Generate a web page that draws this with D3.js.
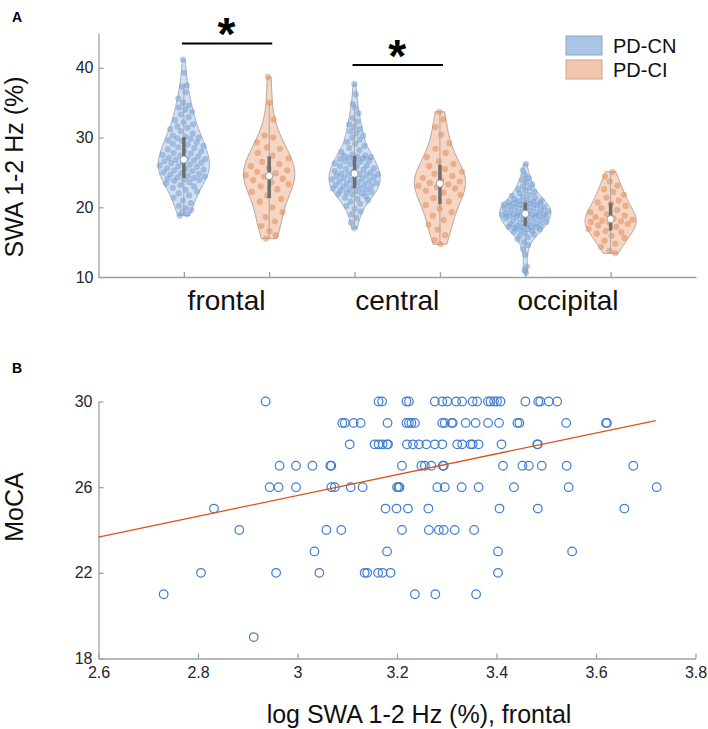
<!DOCTYPE html>
<html><head><meta charset="utf-8">
<script src="https://cdn.jsdelivr.net/npm/d3@7"></script>
<style>body{margin:0;background:#fff} svg{display:block;font-family:"Liberation Sans",Arial,Helvetica,sans-serif}</style>
</head><body><svg id="c" width="708" height="729"></svg>
<script>
// ---------------- DATA ----------------
const regions = ["frontal", "central", "occipital"];
const seriesNames = ["PD-CN", "PD-CI"];

const frontalCN = [18.8,19.0,19.3,19.6,19.9,20.2,20.6,21.0,21.4,21.7,22.0,22.3,22.5,22.8,23.0,23.2,23.4,23.6,23.8,23.9,24.0,24.1,
  24.2,24.3,24.4,24.5,24.7,24.8,24.9,25.0,25.2,25.3,25.4,25.5,25.6,25.8,25.9,26.0,26.1,26.3,26.4,26.5,26.6,26.7,26.8,
  26.9,27.0,27.1,27.3,27.4,27.5,27.7,27.8,28.0,28.1,28.3,28.5,28.6,28.8,29.0,29.1,29.3,29.5,29.6,29.8,29.9,30.0,30.1,
  30.3,30.6,30.9,31.2,31.4,31.6,31.9,32.2,32.5,32.9,33.3,33.7,34.0,34.3,34.6,35.0,35.6,36.5,37.3,37.5,39.3,41.2];
const frontalCI = [15.5,16.0,16.6,17.3,18.0,18.6,19.3,20.0,20.8,21.2,21.7,22.2,22.6,23.0,23.3,23.6,23.9,24.1,24.4,
  24.6,24.9,25.1,25.3,25.6,25.9,26.2,26.5,27.0,27.4,27.8,28.4,28.6,29.3,30.0,30.3,32.6,35.0,38.7];
const centralCN = [17.0,17.8,18.5,19.0,19.4,19.8,20.2,20.5,20.8,21.0,21.2,21.4,21.6,21.8,21.9,22.0,22.1,22.2,22.3,22.4,22.5,22.6,
  22.7,22.8,22.9,23.0,23.1,23.2,23.3,23.4,23.5,23.6,23.7,23.8,23.9,24.0,24.1,24.2,24.3,24.4,24.5,24.6,24.7,24.75,24.8,
  24.85,25.0,25.1,25.2,25.4,25.5,25.6,25.8,25.9,26.0,26.2,26.3,26.5,26.6,26.7,26.8,26.9,27.0,27.1,27.2,27.3,27.35,27.4,
  27.6,27.9,28.2,28.5,28.8,29.1,29.4,29.7,30.0,30.3,30.6,30.9,31.2,31.5,31.9,32.3,32.8,33.5,34.3,34.8,36.2,37.7];
const centralCI = [14.7,15.3,16.0,16.8,17.5,18.2,18.8,19.3,19.8,20.3,20.8,21.3,21.8,22.1,22.4,22.7,22.9,23.1,23.3,
  23.5,23.7,23.9,24.2,24.5,24.8,25.1,25.5,25.9,26.2,26.6,27.2,27.8,28.4,29.2,30.4,31.5,32.6,33.7];
const occipitalCN = [10.6,11.0,11.5,13.2,14.0,14.6,15.0,15.4,15.7,15.9,16.1,16.3,16.5,16.6,16.7,16.8,16.9,17.0,17.1,17.15,17.2,17.25,
  17.3,17.4,17.5,17.6,17.7,17.8,17.9,18.0,18.1,18.2,18.3,18.4,18.5,18.6,18.65,18.7,18.75,18.8,18.85,18.9,18.95,19.0,19.05,
  19.1,19.15,19.2,19.3,19.4,19.5,19.6,19.7,19.8,19.85,19.9,20.0,20.05,20.1,20.2,20.3,20.35,20.4,20.5,20.55,20.6,20.65,20.7,
  20.8,20.9,21.0,21.1,21.2,21.35,21.5,21.65,21.8,22.0,22.2,22.4,22.6,22.8,23.0,23.3,23.6,23.9,24.2,24.6,25.3,26.2];
const occipitalCI = [13.4,13.8,14.3,14.8,15.2,15.6,15.9,16.2,16.4,16.6,16.9,17.2,17.4,17.6,17.8,17.9,18.0,18.1,18.2,
  18.4,18.6,18.8,19.0,19.3,19.6,19.9,20.2,20.5,20.7,21.0,21.4,21.8,22.2,22.6,23.1,23.7,24.4,25.1];

const yTicksA = [10, 20, 30, 40];
const sigRegions = ["frontal", "central"];
const sigLevels = [43.5, 40.4];   // height of the significance bar (SWA %)

const mocaLevels = [30, 29, 28, 27, 26, 25, 24, 23, 22, 21, 19];
const swaByMoca = [
  [2.936,3.163,3.170,3.219,3.224,3.276,3.291,3.301,3.319,3.331,3.352,3.361,3.383,3.388,3.395,3.401,3.408,3.458,3.484,3.488,3.505,3.522],
  [3.090,3.095,3.113,3.127,3.181,3.219,3.224,3.229,3.236,3.291,3.296,3.310,3.312,3.338,3.358,3.383,3.405,3.442,3.446,3.540,3.620,3.622],
  [3.105,3.155,3.163,3.171,3.180,3.182,3.220,3.232,3.244,3.259,3.276,3.291,3.321,3.331,3.348,3.352,3.364,3.410,3.482,3.483],
  [2.964,2.997,3.030,3.066,3.068,3.210,3.249,3.256,3.269,3.292,3.294,3.413,3.452,3.465,3.491,3.541,3.675],
  [2.944,2.962,2.997,3.068,3.075,3.107,3.131,3.200,3.203,3.205,3.281,3.296,3.330,3.364,3.435,3.545,3.722],
  [2.832,3.177,3.199,3.222,3.263,3.406,3.483,3.657],
  [2.883,3.058,3.088,3.210,3.264,3.284,3.294,3.316,3.355],
  [3.034,3.180,3.403,3.552],
  [2.806,2.957,3.044,3.135,3.140,3.162,3.171,3.187,3.403],
  [2.731,3.236,3.277,3.359],
  [2.912]
];
const fitX = [2.6, 3.72];
const fitY = [23.67, 29.11];
const xTicksB = [2.6, 2.8, 3.0, 3.2, 3.4, 3.6, 3.8];
const xTickLabelsB = ["2.6", "2.8", "3", "3.2", "3.4", "3.6", "3.8"];
const yTicksB = [18, 22, 26, 30];

// ---------------- STYLE ----------------
const fillCol = {"PD-CN": "#cbdbef", "PD-CI": "#f3ceb8"};
const edgeCol = {"PD-CN": "#9eacbd", "PD-CI": "#b9a193"};
const ptCol = {"PD-CN": "#6d98d2", "PD-CI": "#e2874f"};
const legFill = {"PD-CN": "#a9c4e4", "PD-CI": "#f1c6ac"};
const legEdge = {"PD-CN": "#8fa6c4", "PD-CI": "#c9a896"};
const axisCol = "#a0a0a0", textCol = "#262626";

const svg = d3.select("#c");

// ---------------- PANEL A ----------------
const xA = d3.scaleLinear().domain([0, 7]).range([98.5, 696]);
const yA = d3.scaleLinear().domain([10, 45]).range([277, 33]);

const groupData = [
  {region: "frontal", s: "PD-CN", data: frontalCN},
  {region: "frontal", s: "PD-CI", data: frontalCI},
  {region: "central", s: "PD-CN", data: centralCN},
  {region: "central", s: "PD-CI", data: centralCI},
  {region: "occipital", s: "PD-CN", data: occipitalCN},
  {region: "occipital", s: "PD-CI", data: occipitalCI}
];
groupData.forEach((g, i) => g.pos = i + 1);

function makeKde(data) {
  const n = data.length, med = d3.median(data);
  const mad = d3.median(data.map(v => Math.abs(v - med)));
  const h = (mad / 0.6745) * Math.pow(4 / (3 * n), 0.2);
  return v => d3.mean(data, d => Math.exp(-0.5 * ((v - d) / h) ** 2));
}

const axA = svg.append("g");
axA.append("g").attr("transform", "translate(0,277)")
  .call(d3.axisBottom(xA).tickValues(d3.range(1, 7)).tickSize(-5).tickSizeOuter(0).tickFormat(""))
  .call(g => { g.selectAll("path,line").attr("stroke", axisCol).attr("stroke-width", 1.3); });
axA.append("g").attr("transform", "translate(98.5,0)")
  .call(d3.axisLeft(yA).tickValues(yTicksA).tickSize(-5).tickSizeOuter(0).tickPadding(5))
  .call(g => {
    g.selectAll("path,line").attr("stroke", axisCol).attr("stroke-width", 1.3);
    g.selectAll("text").attr("font-size", 16).attr("fill", textCol).attr("font-family", "Liberation Sans, Arial, sans-serif");
  });

const violG = svg.append("g");
groupData.forEach(g => {
  const kde = makeKde(g.data);
  const lo = d3.min(g.data), hi = d3.max(g.data);
  const grid = d3.range(0, 121).map(i => lo + (hi - lo) * i / 120);
  const dens = grid.map(kde);
  const maxD = d3.max(dens);
  const wScale = 0.3 / maxD;
  const area = d3.area()
    .y(d => yA(d[0]))
    .x0(d => xA(g.pos - d[1] * wScale))
    .x1(d => xA(g.pos + d[1] * wScale));
  const pts = grid.map((v, i) => [v, dens[i]]);
  violG.append("path").attr("d", area(pts))
    .attr("fill", fillCol[g.s]).attr("fill-opacity", 0.85)
    .attr("stroke", edgeCol[g.s]).attr("stroke-width", 1);
  // jittered data points (deterministic spread across the violin width)
  violG.append("g").selectAll("circle").data(g.data).join("circle")
    .attr("cx", (d, i) => {
      const j = ((i * 0.6180339887 + g.pos * 0.137) % 1) * 2 - 1;
      return xA(g.pos + j * kde(d) * wScale * 0.95);
    })
    .attr("cy", d => yA(d)).attr("r", 3.1)
    .attr("fill", ptCol[g.s]).attr("fill-opacity", 0.5);
  // box elements
  const sorted = g.data.slice().sort(d3.ascending);
  const q1 = d3.quantile(sorted, 0.25), q3 = d3.quantile(sorted, 0.75), md = d3.quantile(sorted, 0.5);
  const iqr = q3 - q1;
  const wLo = d3.min(sorted.filter(v => v >= q1 - 1.5 * iqr));
  const wHi = d3.max(sorted.filter(v => v <= q3 + 1.5 * iqr));
  violG.append("line").attr("x1", xA(g.pos)).attr("x2", xA(g.pos))
    .attr("y1", yA(wLo)).attr("y2", yA(wHi)).attr("stroke", "#a8a8a8").attr("stroke-width", 1);
  violG.append("line").attr("x1", xA(g.pos)).attr("x2", xA(g.pos))
    .attr("y1", yA(q1)).attr("y2", yA(q3)).attr("stroke", "#6e6e6e").attr("stroke-width", 3.5);
  violG.append("circle").attr("cx", xA(g.pos)).attr("cy", yA(md)).attr("r", 3.6)
    .attr("fill", "#fff").attr("stroke", "#8a8a8a").attr("stroke-width", 0.8);
});

// category labels
svg.append("g").selectAll("text").data(regions).join("text")
  .attr("x", (d, i) => xA(2 * i + 1.5)).attr("y", 310)
  .attr("text-anchor", "middle").attr("font-size", 28).attr("fill", "#111")
  .text(d => d);

// significance bars
sigRegions.forEach((r, k) => {
  const i = regions.indexOf(r);
  const y = yA(sigLevels[k]);
  svg.append("line").attr("x1", xA(2 * i + 1) - 2).attr("x2", xA(2 * i + 2) + 3)
    .attr("y1", y).attr("y2", y).attr("stroke", "#000").attr("stroke-width", 2);
  svg.append("text").attr("x", xA(2 * i + 1.5)).attr("y", y + 7)
    .attr("text-anchor", "middle").attr("font-size", 46).attr("font-weight", "bold").text("*");
});

// y label A
svg.append("text").attr("transform", "translate(14,167) rotate(-90)")
  .attr("text-anchor", "middle").attr("dominant-baseline", "central")
  .attr("font-size", 25).attr("fill", "#111").text("SWA 1-2 Hz (%)");
svg.append("text").attr("x", 17).attr("y", 22).attr("text-anchor", "middle")
  .attr("font-size", 14).attr("font-weight", "bold").text("A");

// legend
const leg = svg.append("g");
seriesNames.forEach((s, i) => {
  leg.append("rect").attr("x", 566).attr("y", 36 + i * 24).attr("width", 36).attr("height", 19)
    .attr("fill", legFill[s]).attr("stroke", legEdge[s]).attr("stroke-width", 1);
  leg.append("text").attr("x", 613).attr("y", 46 + i * 24).attr("dominant-baseline", "central")
    .attr("font-size", 20).attr("fill", "#111").text(s);
});

// ---------------- PANEL B ----------------
const xB = d3.scaleLinear().domain([2.6, 3.8]).range([98.5, 695.5]);
const yB = d3.scaleLinear().domain([18, 30]).range([658.5, 401.5]);

const axB = svg.append("g");
axB.append("g").attr("transform", "translate(0,658.5)")
  .call(d3.axisBottom(xB).tickValues(xTicksB).tickSize(-5).tickSizeOuter(0).tickPadding(8)
    .tickFormat((d, i) => xTickLabelsB[i]))
  .call(g => {
    g.selectAll("path,line").attr("stroke", axisCol).attr("stroke-width", 1.3);
    g.selectAll("text").attr("font-size", 16).attr("fill", textCol).attr("font-family", "Liberation Sans, Arial, sans-serif");
  });
axB.append("g").attr("transform", "translate(98.5,0)")
  .call(d3.axisLeft(yB).tickValues(yTicksB).tickSize(-5).tickSizeOuter(0).tickPadding(6))
  .call(g => {
    g.selectAll("path,line").attr("stroke", axisCol).attr("stroke-width", 1.3);
    g.selectAll("text").attr("font-size", 16).attr("fill", textCol).attr("font-family", "Liberation Sans, Arial, sans-serif");
  });

const scatterPts = [];
mocaLevels.forEach((m, i) => swaByMoca[i].forEach(x => scatterPts.push({x, y: m})));
svg.append("g").selectAll("circle").data(scatterPts).join("circle")
  .attr("cx", d => xB(d.x)).attr("cy", d => yB(d.y)).attr("r", 4.3)
  .attr("fill", "none").attr("stroke", "#3f7dd1").attr("stroke-width", 1.2);

svg.append("path")
  .attr("d", d3.line().x(d => xB(d[0])).y(d => yB(d[1]))(fitX.map((x, i) => [x, fitY[i]])))
  .attr("stroke", "#d9541e").attr("stroke-width", 1.3).attr("fill", "none");

svg.append("text").attr("transform", "translate(14,507) rotate(-90)")
  .attr("text-anchor", "middle").attr("dominant-baseline", "central")
  .attr("font-size", 25).attr("fill", "#111").text("MoCA");
svg.append("text").attr("x", 419).attr("y", 722.5).attr("text-anchor", "middle")
  .attr("font-size", 25).attr("fill", "#111").text("log SWA 1-2 Hz (%), frontal");
svg.append("text").attr("x", 17).attr("y", 373).attr("text-anchor", "middle")
  .attr("font-size", 14).attr("font-weight", "bold").text("B");
</script></body></html>
